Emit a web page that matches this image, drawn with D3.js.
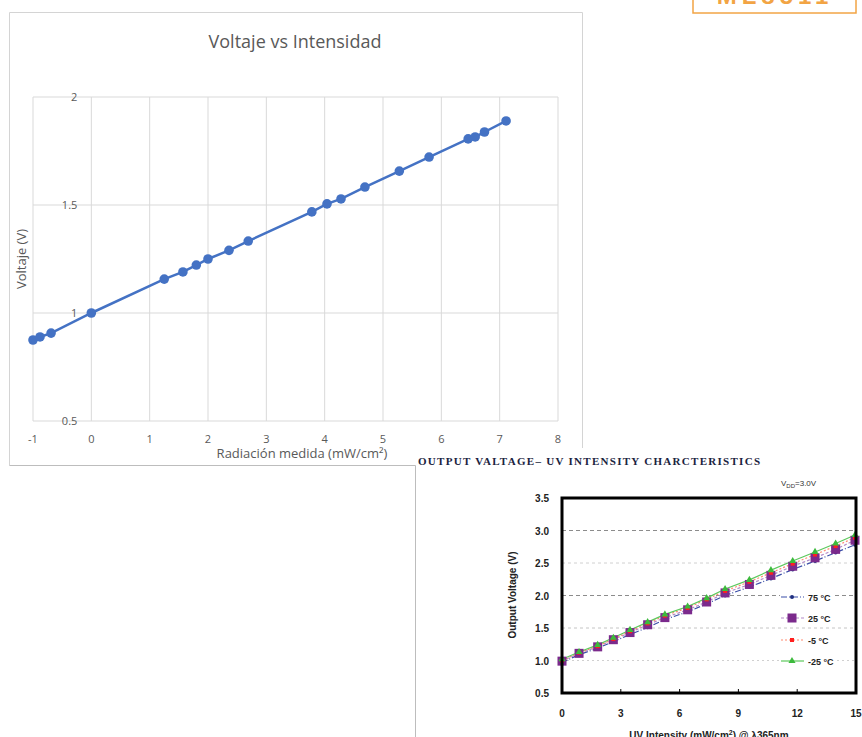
<!DOCTYPE html>
<html>
<head>
<meta charset="utf-8">
<script src="https://cdn.jsdelivr.net/npm/d3@7"></script>
<style>
  body { margin: 0; background: #fff; }
  svg { display: block; }
</style>
</head>
<body>
<svg id="chart" width="862" height="737"></svg>
<script>
// main chart (Excel scatter)
var radiacion = [-1.0, -0.88, -0.69, 0.0, 1.25, 1.57, 1.80, 2.0, 2.36, 2.69, 3.78, 4.04, 4.28, 4.69, 5.28, 5.79, 6.46, 6.58, 6.74, 7.11];
var voltaje   = [0.875, 0.889, 0.907, 1.0, 1.157, 1.19, 1.222, 1.25, 1.29, 1.333, 1.468, 1.505, 1.528, 1.583, 1.657, 1.722, 1.806, 1.815, 1.838, 1.889];
var xTicks = [-1, 0, 1, 2, 3, 4, 5, 6, 7, 8];
var yTicks = [0.5, 1, 1.5, 2];

// datasheet chart
var uvIntensity = [0, 0.87, 1.82, 2.62, 3.47, 4.37, 5.25, 6.41, 7.38, 8.32, 9.56, 10.66, 11.77, 12.91, 13.96, 14.95];
var v75  = [0.97, 1.09, 1.19, 1.29, 1.40, 1.51, 1.63, 1.75, 1.87, 2.00, 2.13, 2.26, 2.40, 2.53, 2.66, 2.78];
var v25  = [0.99, 1.11, 1.21, 1.32, 1.43, 1.55, 1.66, 1.78, 1.90, 2.04, 2.17, 2.31, 2.45, 2.58, 2.71, 2.85];
var vm5  = [1.00, 1.12, 1.22, 1.33, 1.45, 1.57, 1.69, 1.81, 1.94, 2.07, 2.21, 2.35, 2.49, 2.63, 2.76, 2.89];
var vm25 = [1.02, 1.13, 1.24, 1.35, 1.47, 1.59, 1.71, 1.83, 1.96, 2.10, 2.24, 2.39, 2.53, 2.67, 2.80, 2.93];
var seriesNames = ["75 °C", "25 °C", "-5 °C", "-25 °C"];
var uvTicks = [0, 3, 6, 9, 12, 15];
var outTicks = [0.5, 1.0, 1.5, 2.0, 2.5, 3.0, 3.5];

var svg = d3.select("#chart");
var excelFont = "'Open Sans', 'Liberation Sans', sans-serif";

// ---------- panel borders ----------
svg.append("path")
  .attr("d", "M9.5,465.5 V12.5 H582.5 V448")
  .attr("fill", "none").attr("stroke", "#d4d4d4").attr("stroke-width", 1);
svg.append("path")
  .attr("d", "M9.5,465.5 H415.5 V737")
  .attr("fill", "none").attr("stroke", "#bdbdbd").attr("stroke-width", 1);

// orange box top right (clipped)
svg.append("rect").attr("x", 693).attr("y", -6).attr("width", 163).attr("height", 19)
  .attr("fill", "#fff").attr("stroke", "#f2a444").attr("stroke-width", 1.5);
svg.append("text").attr("x", 775).attr("y", 4).attr("text-anchor", "middle")
  .attr("font-family", "'Liberation Sans', sans-serif").attr("font-weight", "bold")
  .attr("font-size", 24).attr("letter-spacing", 5).attr("fill", "#f2a444")
  .text("ML8511");

// ---------- main chart ----------
var x = d3.scaleLinear().domain([-1, 8]).range([33, 558]);
var y = d3.scaleLinear().domain([0.5, 2]).range([421, 97]);

var grid = svg.append("g");
grid.selectAll("line.v").data(xTicks).enter().append("line")
  .attr("x1", function (d) { return x(d) }).attr("x2", function (d) { return x(d) })
  .attr("y1", y(2)).attr("y2", y(0.5))
  .attr("stroke", "#d9d9d9").attr("stroke-width", 1);
grid.selectAll("line.h").data(yTicks).enter().append("line")
  .attr("x1", x(-1)).attr("x2", x(8))
  .attr("y1", function (d) { return y(d) }).attr("y2", function (d) { return y(d) })
  .attr("stroke", "#d9d9d9").attr("stroke-width", 1);

// tick labels (axes cross at x=0, y=0.5 like Excel)
svg.append("g").selectAll("text").data(yTicks).enter().append("text")
  .attr("x", x(0) - 14).attr("y", function (d) { return y(d) + 4 })
  .attr("text-anchor", "end").attr("font-family", excelFont).attr("font-size", 11)
  .attr("fill", "#595959").text(function (d) { return d });
svg.append("g").selectAll("text").data(xTicks).enter().append("text")
  .attr("x", function (d) { return x(d) }).attr("y", 443)
  .attr("text-anchor", "middle").attr("font-family", excelFont).attr("font-size", 11)
  .attr("fill", "#595959").text(function (d) { return d });

svg.append("text").attr("x", 295).attr("y", 48).attr("text-anchor", "middle")
  .attr("font-family", excelFont).attr("font-size", 18).attr("fill", "#595959")
  .text("Voltaje vs Intensidad");
svg.append("text").attr("x", 302).attr("y", 458).attr("text-anchor", "middle")
  .attr("font-family", excelFont).attr("font-size", 13).attr("fill", "#595959")
  .text("Radiación medida (mW/cm²)");
svg.append("text").attr("transform", "translate(26,259) rotate(-90)").attr("text-anchor", "middle")
  .attr("font-family", excelFont).attr("font-size", 13).attr("fill", "#595959")
  .text("Voltaje (V)");

var mainPts = radiacion.map(function (d, i) { return [d, voltaje[i]] });
svg.append("path").datum(mainPts)
  .attr("d", d3.line().x(function (d) { return x(d[0]) }).y(function (d) { return y(d[1]) }))
  .attr("fill", "none").attr("stroke", "#4472c4").attr("stroke-width", 2.5);
svg.append("g").selectAll("circle").data(mainPts).enter().append("circle")
  .attr("cx", function (d) { return x(d[0]) }).attr("cy", function (d) { return y(d[1]) })
  .attr("r", 4.8).attr("fill", "#4472c4");

// ---------- datasheet chart ----------
var serif = "'Liberation Serif', 'Times New Roman', serif";
var arial = "'Liberation Sans', Arial, sans-serif";

svg.append("text").attr("x", 418).attr("y", 465)
  .attr("font-family", serif).attr("font-weight", "bold").attr("font-size", 11)
  .attr("fill", "#1a2340").attr("textLength", 342)
  .text("OUTPUT VALTAGE– UV INTENSITY CHARCTERISTICS");

var ux = d3.scaleLinear().domain([0, 15]).range([562, 856]);
var uy = d3.scaleLinear().domain([0.5, 3.5]).range([693, 498]);

var dashed = [
  { v: 3.0, c: "#8c8c8c", d: "4,3" },
  { v: 2.5, c: "#d0d0d0", d: "3,3" },
  { v: 2.0, c: "#8c8c8c", d: "4,3" },
  { v: 1.5, c: "#c4c4c4", d: "3,3" },
  { v: 1.0, c: "#d0d0d0", d: "2,3" }
];
svg.append("g").selectAll("line").data(dashed).enter().append("line")
  .attr("x1", ux(0)).attr("x2", ux(15))
  .attr("y1", function (d) { return uy(d.v) }).attr("y2", function (d) { return uy(d.v) })
  .attr("stroke", function (d) { return d.c }).attr("stroke-dasharray", function (d) { return d.d })
  .attr("stroke-width", 1);

// inner tick marks on bottom
svg.append("g").selectAll("line").data([3, 6, 9, 12]).enter().append("line")
  .attr("x1", function (d) { return ux(d) }).attr("x2", function (d) { return ux(d) })
  .attr("y1", uy(0.5)).attr("y2", uy(0.5) - 4)
  .attr("stroke", "#000").attr("stroke-width", 1);

var styles = [
  { vals: v75,  line: "#3b4fa8", dash: "6,2,1,2", mark: "dot", fill: "#1f2f80" },
  { vals: v25,  line: "#b48ac8", dash: "3,2", mark: "square", fill: "#7b2a8c" },
  { vals: vm5,  line: "#ff8a70", dash: "2,2", mark: "small", fill: "#ff1f1f" },
  { vals: vm25, line: "#5cc85c", dash: null, mark: "tri", fill: "#3cba3c" }
];

var uline = d3.line().x(function (d) { return ux(d[0]) }).y(function (d) { return uy(d[1]) });
styles.forEach(function (s) {
  var pts = uvIntensity.map(function (u, i) { return [u, s.vals[i]] });
  svg.append("path").datum(pts).attr("d", uline)
    .attr("fill", "none").attr("stroke", s.line).attr("stroke-width", 1.2)
    .attr("stroke-dasharray", s.dash);
});

function drawMark(g, s, cx, cy) {
  if (s.mark === "dot") {
    g.append("circle").attr("cx", cx).attr("cy", cy).attr("r", 2).attr("fill", s.fill);
  } else if (s.mark === "square") {
    g.append("rect").attr("x", cx - 4.5).attr("y", cy - 4.5).attr("width", 9).attr("height", 9).attr("fill", s.fill);
  } else if (s.mark === "small") {
    g.append("rect").attr("x", cx - 2).attr("y", cy - 2).attr("width", 4).attr("height", 4).attr("fill", s.fill);
  } else {
    g.append("path").attr("d", d3.symbol(d3.symbolTriangle, 22)()).attr("transform", "translate(" + cx + "," + cy + ")")
      .attr("fill", s.fill);
  }
}
styles.forEach(function (s) {
  var g = svg.append("g");
  uvIntensity.forEach(function (u, i) { drawMark(g, s, ux(u), uy(s.vals[i])) });
});

// legend
var legY = [597, 618, 640, 661];
styles.forEach(function (s, i) {
  var g = svg.append("g");
  g.append("rect").attr("x", 780).attr("y", legY[i] - 7).attr("width", 55).attr("height", 14).attr("fill", "#fff");
  g.append("line").attr("x1", 781).attr("x2", 804).attr("y1", legY[i]).attr("y2", legY[i])
    .attr("stroke", s.line).attr("stroke-width", 1.2).attr("stroke-dasharray", s.dash);
  drawMark(g, s, 792, legY[i]);
  g.append("text").attr("x", 808).attr("y", legY[i] + 3.5)
    .attr("font-family", arial).attr("font-weight", "bold").attr("font-size", 9)
    .attr("fill", "#222").text(seriesNames[i]);
});

// frame
svg.append("rect").attr("x", ux(0)).attr("y", uy(3.5))
  .attr("width", ux(15) - ux(0)).attr("height", uy(0.5) - uy(3.5))
  .attr("fill", "none").attr("stroke", "#000").attr("stroke-width", 3);

svg.append("g").selectAll("text").data(outTicks).enter().append("text")
  .attr("x", 549).attr("y", function (d) { return uy(d) + 4 })
  .attr("text-anchor", "end").attr("font-family", arial).attr("font-weight", "bold")
  .attr("font-size", 10).attr("fill", "#222").text(function (d) { return d.toFixed(1) });
svg.append("g").selectAll("text").data(uvTicks).enter().append("text")
  .attr("x", function (d) { return ux(d) }).attr("y", 717)
  .attr("text-anchor", "middle").attr("font-family", arial).attr("font-weight", "bold")
  .attr("font-size", 10).attr("fill", "#222").text(function (d) { return d });

svg.append("text").attr("transform", "translate(516,595) rotate(-90)").attr("text-anchor", "middle")
  .attr("font-family", arial).attr("font-weight", "bold").attr("font-size", 10)
  .attr("fill", "#222").text("Output Voltage (V)");
var xt = svg.append("text").attr("x", 709).attr("y", 739).attr("text-anchor", "middle")
  .attr("font-family", arial).attr("font-weight", "bold").attr("font-size", 10).attr("fill", "#222");
xt.append("tspan").text("UV Intensity (mW/cm");
xt.append("tspan").attr("dy", -4).attr("font-size", 7).text("2");
xt.append("tspan").attr("dy", 4).text(") @ λ365nm");

var vdd = svg.append("text").attr("x", 781).attr("y", 486)
  .attr("font-family", arial).attr("font-size", 8).attr("fill", "#333");
vdd.append("tspan").text("V");
vdd.append("tspan").attr("dy", 2).attr("font-size", 6).text("DD");
vdd.append("tspan").attr("dy", -2).text("=3.0V");
</script>
</body>
</html>
